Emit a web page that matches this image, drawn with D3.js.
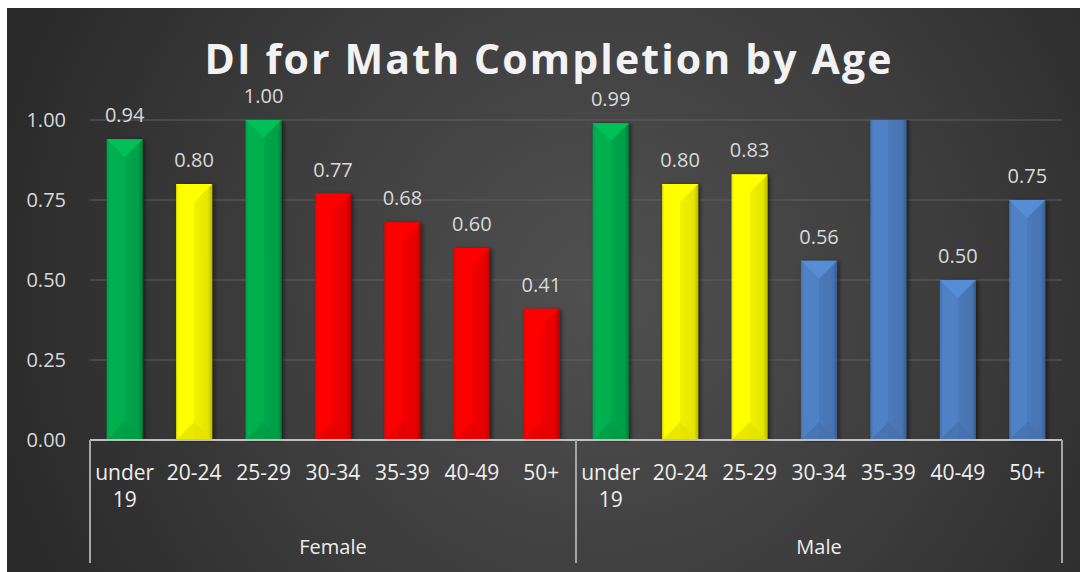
<!DOCTYPE html>
<html>
<head>
<meta charset="utf-8">
<script src="https://cdn.jsdelivr.net/npm/d3@7"></script>
<style>
    body { margin: 0; background: #ffffff; }
    text { font-family: "Open Sans", "DejaVu Sans", sans-serif; }
</style>
</head>
<body>
<svg id="chart" width="1080" height="572"></svg>
<script>
// chart data
const groups = ["Female", "Male"];
const ages = ["under 19", "20-24", "25-29", "30-34", "35-39", "40-49", "50+"];
const femaleValues = [0.94, 0.80, 1.00, 0.77, 0.68, 0.60, 0.41];
// 35-39 for Male runs past the top of the axis (label hidden, bar clipped)
const maleValues = [0.99, 0.80, 0.83, 0.56, 1.20, 0.50, 0.75];
const yTicks = [0, 0.25, 0.5, 0.75, 1.0];

// bar colours, one per age band
const femaleColors = ["#00b050", "#ffff00", "#00b050", "#ff0000", "#ff0000", "#ff0000", "#ff0000"];
const maleColors = ["#00b050", "#ffff00", "#ffff00", "#4f81c4", "#4f81c4", "#4f81c4", "#4f81c4"];

const svg = d3.select("#chart");
const W = 1080, H = 572;
const plot = {left: 90, right: 1062, top: 120, bottom: 440};

const defs = svg.append("defs");

// background glow
const bg = defs.append("radialGradient")
    .attr("id", "bg")
    .attr("gradientUnits", "userSpaceOnUse")
    .attr("cx", 600).attr("cy", 290).attr("r", 620);
bg.append("stop").attr("offset", "0%").attr("stop-color", "#505050");
bg.append("stop").attr("offset", "55%").attr("stop-color", "#3d3d3d");
bg.append("stop").attr("offset", "100%").attr("stop-color", "#2a2a2a");

const shadow = defs.append("filter").attr("id", "shadow")
    .attr("x", "-30%").attr("y", "-10%").attr("width", "160%").attr("height", "120%");
shadow.append("feDropShadow")
    .attr("dx", 2).attr("dy", 1).attr("stdDeviation", 2)
    .attr("flood-color", "#000").attr("flood-opacity", 0.55);

defs.append("clipPath").attr("id", "plotClip")
    .append("rect")
    .attr("x", plot.left - 10).attr("y", plot.top)
    .attr("width", plot.right - plot.left + 20).attr("height", plot.bottom - plot.top + 2);

svg.append("rect")
    .attr("x", 7).attr("y", 8)
    .attr("width", W - 7).attr("height", H - 8)
    .attr("fill", "url(#bg)");

// title
svg.append("text")
    .attr("x", 548).attr("y", 74)
    .attr("text-anchor", "middle")
    .attr("font-size", 41)
    .attr("font-weight", "bold")
    .attr("fill", "#f2f2f2")
    .attr("textLength", 687)
    .attr("lengthAdjust", "spacing")
    .text("DI for Math Completion by Age");

// scales
const x0 = d3.scaleBand()
    .domain(groups)
    .range([plot.left, plot.right])
    .padding(0);

const x1 = d3.scaleBand()
    .domain(ages)
    .range([0, x0.bandwidth()])
    .paddingInner(0.48)
    .paddingOuter(0.24);

const y = d3.scaleLinear()
    .domain([0, 1])
    .range([plot.bottom, plot.top]);

// gridlines
svg.append("g")
    .selectAll("line")
    .data(yTicks.filter(function (d) { return d > 0; }))
    .enter()
    .append("line")
    .attr("x1", plot.left).attr("x2", plot.right)
    .attr("y1", function (d) { return y(d); })
    .attr("y2", function (d) { return y(d); })
    .attr("stroke", "#5e5e5e")
    .attr("stroke-width", 1);

// y axis labels
const yAxis = svg.append("g")
    .attr("transform", "translate(" + (plot.left - 24) + ",0)")
    .call(d3.axisLeft(y).tickValues(yTicks).tickFormat(d3.format(".2f")).tickSize(0).tickPadding(0));
yAxis.select(".domain").remove();
yAxis.selectAll("text")
    .attr("font-size", 20)
    .attr("fill", "#d9d9d9")
    .attr("font-family", "Open Sans, sans-serif");

// flatten data
const bars = [];
groups.forEach(function (g, gi) {
    const vals = gi === 0 ? femaleValues : maleValues;
    const cols = gi === 0 ? femaleColors : maleColors;
    ages.forEach(function (a, i) {
        bars.push({group: g, age: a, value: vals[i], color: cols[i]});
    });
});

const barLayer = svg.append("g").attr("clip-path", "url(#plotClip)");

const bar = barLayer.selectAll("g.bar")
    .data(bars)
    .enter()
    .append("g")
    .attr("class", "bar")
    .attr("transform", function (d) {
        return "translate(" + (x0(d.group) + x1(d.age)) + ",0)";
    });

const bw = x1.bandwidth();

// body with side shading
bar.each(function (d, i) {
    const c = d3.color(d.color);
    const grad = defs.append("linearGradient")
        .attr("id", "face" + i)
        .attr("x1", "0%").attr("x2", "100%");
    grad.append("stop").attr("offset", "0%").attr("stop-color", c.darker(0.35));
    grad.append("stop").attr("offset", "8%").attr("stop-color", c);
    grad.append("stop").attr("offset", "50%").attr("stop-color", c);
    grad.append("stop").attr("offset", "50%").attr("stop-color", c.darker(0.15));
    grad.append("stop").attr("offset", "88%").attr("stop-color", c.darker(0.3));
    grad.append("stop").attr("offset", "100%").attr("stop-color", c.darker(0.9));
});

bar.append("rect")
    .attr("x", 0)
    .attr("y", function (d) { return y(d.value); })
    .attr("width", bw)
    .attr("height", function (d) { return y(0) - y(d.value); })
    .attr("fill", function (d, i) { return "url(#face" + i + ")"; })
    .attr("filter", "url(#shadow)");

// top bevel
bar.append("path")
    .attr("d", function (d) {
        const t = y(d.value);
        return "M0," + t + "L" + bw + "," + t + "L" + (bw / 2) + "," + (t + bw / 2) + "Z";
    })
    .attr("fill", function (d) { return d3.color(d.color).brighter(0.25); });

// bottom bevel
bar.append("path")
    .attr("d", function (d) {
        const b = y(0);
        return "M0," + b + "L" + bw + "," + b + "L" + (bw / 2) + "," + (b - bw / 2) + "Z";
    })
    .attr("fill", function (d) { return d3.color(d.color).darker(0.35); })
    .attr("opacity", 0.75);

// value labels (hidden when the bar is past the axis maximum)
svg.append("g")
    .selectAll("text")
    .data(bars.filter(function (d) { return d.value <= y.domain()[1]; }))
    .enter()
    .append("text")
    .attr("x", function (d) { return x0(d.group) + x1(d.age) + bw / 2; })
    .attr("y", function (d) { return y(d.value) - 17; })
    .attr("text-anchor", "middle")
    .attr("font-size", 20)
    .attr("fill", "#d9d9d9")
    .text(function (d) { return d3.format(".2f")(d.value); });

// axis line
svg.append("line")
    .attr("x1", plot.left).attr("x2", plot.right)
    .attr("y1", plot.bottom).attr("y2", plot.bottom)
    .attr("stroke", "#bfbfbf")
    .attr("stroke-width", 2);

// group separators
const seps = groups.map(function (g) { return x0(g); }).concat([plot.right]);
svg.append("g")
    .selectAll("line")
    .data(seps)
    .enter()
    .append("line")
    .attr("x1", function (d) { return d; })
    .attr("x2", function (d) { return d; })
    .attr("y1", plot.bottom)
    .attr("y2", 563)
    .attr("stroke", "#a6a6a6")
    .attr("stroke-width", 2);

// category labels
const cat = svg.append("g")
    .selectAll("text")
    .data(bars)
    .enter()
    .append("text")
    .attr("text-anchor", "middle")
    .attr("font-size", 21)
    .attr("fill", "#eeeeee");

cat.selectAll("tspan")
    .data(function (d) {
        const cx = x0(d.group) + x1(d.age) + bw / 2;
        return d.age.split(" ").map(function (w, k) { return {w: w, k: k, cx: cx}; });
    })
    .enter()
    .append("tspan")
    .attr("x", function (d) { return d.cx; })
    .attr("y", function (d) { return 480 + d.k * 27; })
    .text(function (d) { return d.w; });

// group labels
svg.append("g")
    .selectAll("text")
    .data(groups)
    .enter()
    .append("text")
    .attr("x", function (d) { return x0(d) + x0.bandwidth() / 2; })
    .attr("y", 554)
    .attr("text-anchor", "middle")
    .attr("font-size", 20)
    .attr("fill", "#eeeeee")
    .text(function (d) { return d; });
</script>
</body>
</html>
